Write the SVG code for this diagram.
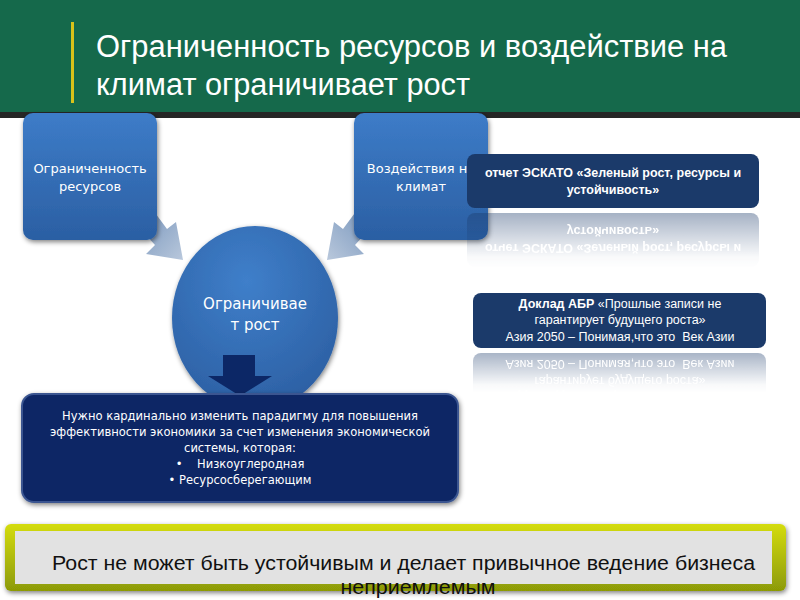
<svg xmlns="http://www.w3.org/2000/svg" width="800" height="600" viewBox="0 0 800 600">
<defs>
<style>
.t{font-family:"DejaVu Sans","Liberation Sans",sans-serif;fill:#fff;text-anchor:middle}
.title{font-family:"Liberation Sans",Arial,sans-serif;fill:#fff;font-size:31px}
.cb{font-family:"Liberation Sans",Arial,sans-serif;fill:#fff;text-anchor:middle;font-size:12.5px}
.ban{font-family:"Liberation Sans",Arial,sans-serif;font-size:20px;fill:#111}
</style>
<linearGradient id="gBox" x1="0" y1="0" x2="0" y2="1">
<stop offset="0" stop-color="#3d7cc8"/><stop offset="1" stop-color="#2b5fa3"/>
</linearGradient>
<radialGradient id="gCirc" cx="0.45" cy="0.3" r="0.8">
<stop offset="0" stop-color="#3f7fca"/><stop offset="1" stop-color="#2a5c9f"/>
</radialGradient>
<linearGradient id="gArrL" x1="0" y1="0" x2="1" y2="1">
<stop offset="0" stop-color="#6f8fb8"/><stop offset="1" stop-color="#b9c8dc"/>
</linearGradient>
<linearGradient id="gArrR" x1="1" y1="0" x2="0" y2="1">
<stop offset="0" stop-color="#6f8fb8"/><stop offset="1" stop-color="#b9c8dc"/>
</linearGradient>
<linearGradient id="gBan" x1="0" y1="0" x2="0" y2="1">
<stop offset="0" stop-color="#d4dc10"/><stop offset="1" stop-color="#8c9a06"/>
</linearGradient>
<linearGradient id="fade" x1="0" y1="0" x2="0" y2="1">
<stop offset="0" stop-color="#fff" stop-opacity="0.4"/><stop offset="0.8" stop-color="#fff" stop-opacity="0.03"/><stop offset="1" stop-color="#fff" stop-opacity="0"/>
</linearGradient>
<mask id="m1" maskUnits="userSpaceOnUse" x="460" y="210" width="310" height="60">
<rect x="460" y="212" width="310" height="56" fill="url(#fade)"/>
</mask>
<mask id="m2" maskUnits="userSpaceOnUse" x="460" y="350" width="310" height="50">
<rect x="460" y="351" width="310" height="42" fill="url(#fade)"/>
</mask>
<filter id="sh" x="-10%" y="-10%" width="120%" height="130%">
<feGaussianBlur in="SourceAlpha" stdDeviation="2.5"/><feOffset dx="1" dy="2"/>
<feComponentTransfer><feFuncA type="linear" slope="0.5"/></feComponentTransfer>
<feMerge><feMergeNode/><feMergeNode in="SourceGraphic"/></feMerge>
</filter>
</defs>
<rect width="800" height="600" fill="#fff"/>
<g id="header">
<rect x="0" y="0" width="800" height="112" fill="#15694b"/>
<rect x="0" y="112" width="800" height="6" fill="#262626"/>
<rect x="71" y="22" width="3" height="81" fill="#d9c21a"/>
<text class="title" x="96" y="57" textLength="631" lengthAdjust="spacingAndGlyphs">Ограниченность ресурсов и воздействие на</text>
<text class="title" x="96" y="95" textLength="374" lengthAdjust="spacingAndGlyphs">климат ограничивает рост</text>
</g>
<g id="connectors">
<path d="M134,222 L150,206 L167,229 L176,222 L183,260 L146,254 L155,245 Z" fill="url(#gArrL)"/>
<path d="M376,222 L360,206 L343,229 L334,222 L327,260 L364,254 L355,245 Z" fill="url(#gArrR)"/>
</g>
<g id="box1">
<rect x="23" y="113" width="134" height="127" rx="10" fill="url(#gBox)" filter="url(#sh)"/>
<text class="t" font-size="13" x="90" y="173">Ограниченность</text>
<text class="t" font-size="13" x="90" y="191">ресурсов</text>
</g>
<g id="box2">
<rect x="354" y="113" width="134" height="127" rx="10" fill="url(#gBox)" filter="url(#sh)"/>
<text class="t" font-size="13" x="421" y="173">Воздействия на</text>
<text class="t" font-size="13" x="421" y="191">климат</text>
</g>
<g id="circle">
<ellipse cx="255" cy="318" rx="83" ry="92" fill="url(#gCirc)" filter="url(#sh)"/>
<text class="t" font-size="15" x="255" y="309">Ограничивае</text>
<text class="t" font-size="15" x="255" y="330">т рост</text>
</g>
<g id="down-arrow">
<path d="M223,355 L255,355 L255,376 L272,376 L240,396 L208,376 L223,376 Z" fill="#0c2766"/>
</g>
<g id="bottom-box">
<rect x="22" y="394" width="436" height="108" rx="12" fill="#0b2565" stroke="#3a5590" stroke-width="2" filter="url(#sh)"/>
<g class="t" font-size="11.5">
<text x="240" y="420" textLength="356" lengthAdjust="spacingAndGlyphs">Нужно кардинально изменить парадигму для повышения</text>
<text x="240" y="436" textLength="380" lengthAdjust="spacingAndGlyphs">эффективности экономики за счет изменения экономической</text>
<text x="240" y="452">системы, которая:</text>
<text x="240" y="468" xml:space="preserve">•    Низкоуглеродная</text>
<text x="240" y="484">• Ресурсосберегающим</text>
</g>
</g>
<g id="callout1">
<rect x="467" y="154" width="292" height="54" rx="8" fill="#1b3a6a"/>
<text class="cb" font-weight="bold" x="613" y="177">отчет ЭСКАТО «Зеленый рост, ресурсы и</text>
<text class="cb" font-weight="bold" x="613" y="194">устойчивость»</text>
<g mask="url(#m1)">
<g transform="translate(0,421) scale(1,-1)">
<rect x="467" y="154" width="292" height="54" rx="8" fill="#1b3a6a"/>
<text class="cb" font-weight="bold" x="613" y="177">отчет ЭСКАТО «Зеленый рост, ресурсы и</text>
<text class="cb" font-weight="bold" x="613" y="194">устойчивость»</text>
</g>
</g>
</g>
<g id="callout2">
<rect x="473" y="293" width="293" height="55" rx="8" fill="#1b3a6a"/>
<text class="cb" x="620" y="308"><tspan font-weight="bold">Доклад АБР</tspan> «Прошлые записи не</text>
<text class="cb" x="620" y="324">гарантирует будущего роста»</text>
<text class="cb" x="620" y="341" xml:space="preserve">Азия 2050 – Понимая,что это  Век Азии</text>
<g mask="url(#m2)">
<g transform="translate(0,701) scale(1,-1)">
<rect x="473" y="293" width="293" height="55" rx="8" fill="#1b3a6a"/>
<text class="cb" x="620" y="308"><tspan font-weight="bold">Доклад АБР</tspan> «Прошлые записи не</text>
<text class="cb" x="620" y="324">гарантирует будущего роста»</text>
<text class="cb" x="620" y="341" xml:space="preserve">Азия 2050 – Понимая,что это  Век Азии</text>
</g>
</g>
</g>
<g id="banner">
<rect x="5" y="524" width="781" height="67" rx="6" fill="url(#gBan)" filter="url(#sh)"/>
<rect x="15" y="531" width="757" height="53" fill="#e2e2e2"/>
<text class="ban" x="52" y="570" textLength="703" lengthAdjust="spacingAndGlyphs">Рост не может быть устойчивым и делает привычное ведение бизнеса</text>
<text class="ban" x="418" y="594" text-anchor="middle" textLength="155" lengthAdjust="spacingAndGlyphs">неприемлемым</text>
</g>
</svg>
